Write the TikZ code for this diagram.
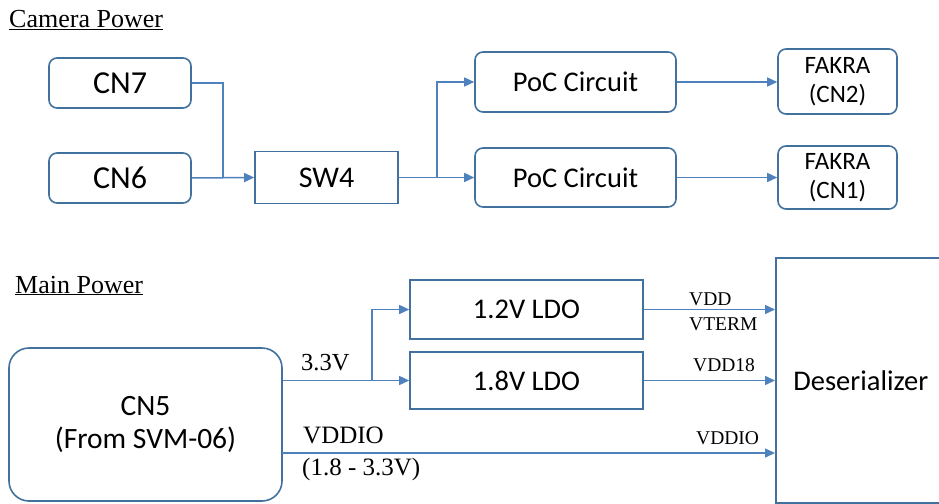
\documentclass[tikz,border=0pt]{standalone}
\usepackage{fontspec}
\setmainfont{Liberation Serif}
\newfontfamily\calibri{Carlito}
\usetikzlibrary{arrows.meta}
\definecolor{boxblue}{RGB}{65,113,156}
\definecolor{wireblue}{RGB}{79,129,189}

\begin{document}
\begin{tikzpicture}[x=1pt,y=-1pt,
  rbox/.style={draw=boxblue,line width=1.6pt,rounded corners=8pt,inner sep=0pt,font=\calibri\fontsize{28.5}{33}\selectfont,align=center},
  sbox/.style={draw=boxblue,line width=1.6pt,inner sep=0pt,font=\calibri\fontsize{28.5}{33}\selectfont,align=center},
  wire/.style={wireblue,line width=1.5pt},
  arr/.style={wire,-{Triangle[length=10pt,width=9pt]}},
  lbl/.style={anchor=base west,inner sep=0pt,font=\fontsize{25}{28}\selectfont},
  small/.style={anchor=base west,inner sep=0pt,font=\fontsize{19.5}{23}\selectfont}]
\clip (0,0) rectangle (939,503);

% camera power
\node[lbl,font=\fontsize{26}{28}\selectfont] (camtitle) at (9,28) {\underline{Camera Power}};
\node[rbox,minimum width=142,minimum height=50,font=\calibri\fontsize{32}{36}\selectfont] (cn7) at (120,83) {CN7};
\node[rbox,minimum width=142,minimum height=50,font=\calibri\fontsize{32}{36}\selectfont] (cn6) at (120,178) {CN6};
\node[sbox,minimum width=143,minimum height=52,font=\calibri\fontsize{30}{33}\selectfont] (sw4) at (326.5,177.5) {SW4};
\node[rbox,minimum width=201,minimum height=60] (pocA) at (575.5,82) {PoC Circuit};
\node[rbox,minimum width=201,minimum height=59] (pocB) at (575.5,177.5) {PoC Circuit};
\node[rbox,minimum width=119,minimum height=65,font=\calibri\fontsize{25}{29}\selectfont] (fakA) at (837.5,81.5) {FAKRA\\(CN2)};
\node[rbox,minimum width=119,minimum height=63,font=\calibri\fontsize{25}{29}\selectfont] (fakB) at (837.5,177.5) {FAKRA\\(CN1)};

\coordinate (j1) at (223,178);
\coordinate (j2) at (437,178);
\draw[wire] (cn7.east) -| (j1);
\draw[arr] (cn6.east) -- (sw4.west);
\draw[arr] (sw4.east) -- (pocB.west);
\draw[arr] (j2) |- (pocA.west);
\draw[arr] (pocA.east) -- (pocA.east -| fakA.west);
\draw[arr] (pocB.east) -- (pocB.east -| fakB.west);

% main power
\node[lbl,font=\fontsize{26}{28}\selectfont] (maintitle) at (15,293) {\underline{Main Power}};
\node[rbox,rounded corners=20pt,minimum width=273,minimum height=153,font=\calibri\fontsize{29.5}{33}\selectfont] (cn5) at (145.5,424.5) {CN5\\(From SVM-06)};
\node[sbox,minimum width=233,minimum height=59] (ldoA) at (526.5,309.5) {1.2V LDO};
\node[sbox,minimum width=233,minimum height=57] (ldoB) at (526.5,380.5) {1.8V LDO};
\node[sbox,minimum width=170,minimum height=245,anchor=north west] (des) at (775,257) {Deserializer};

\coordinate (j3) at (372,381);
\coordinate (vio) at (282,453);
\draw[arr] (cn5.east |- ldoB.west) -- (ldoB.west);
\draw[arr] (j3) |- (ldoA.west);
\draw[arr] (vio) -- (vio -| des.west);
\draw[arr] (ldoA.east) -- (ldoA.east -| des.west);
\draw[arr] (ldoB.east) -- (ldoB.east -| des.west);

\node[lbl,font=\fontsize{24.5}{28}\selectfont] (v33) at (301,370) {3.3V};
\node[lbl] (vioA) at (303,443) {VDDIO};
\node[lbl] (vioB) at (302,475) {(1.8 - 3.3V)};
\node[small] (vdd) at (689,305) {VDD};
\node[small] (vterm) at (689,330) {VTERM};
\node[small] (vdd18) at (693,371) {VDD18};
\node[small] (vioC) at (696,444) {VDDIO};
\end{tikzpicture}
\end{document}
